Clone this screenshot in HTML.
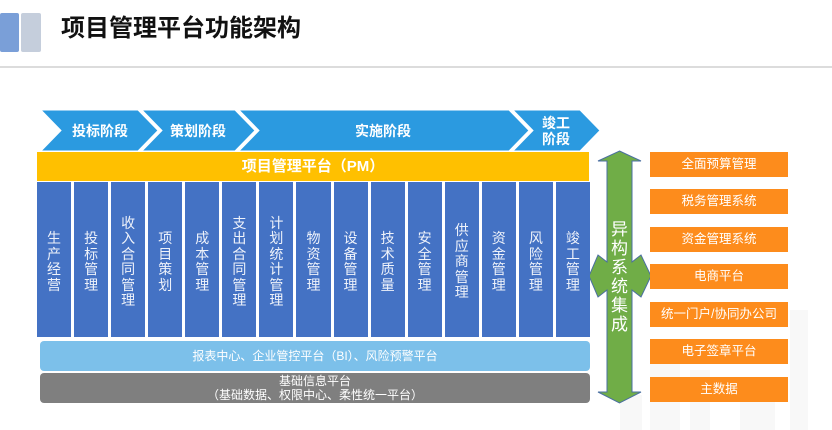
<!DOCTYPE html>
<html><head><meta charset="utf-8">
<style>
html,body{margin:0;padding:0;}
body{width:832px;height:430px;position:relative;overflow:hidden;background:#fff;font-family:"Liberation Sans","Noto Sans CJK SC",sans-serif;}
.abs{position:absolute;}
.cols{position:absolute;left:37px;top:182px;width:553px;height:155px;display:flex;gap:3px;}
.col{flex:1;background:#4472c4;color:#eef2fa;font-size:14px;line-height:15.5px;display:flex;align-items:center;justify-content:center;text-align:center;padding-top:5px;box-sizing:border-box;}
.col span{display:block;width:14px;word-break:break-all;}
.ob{position:absolute;left:650px;width:138px;height:25px;background:#fd8c1c;color:#fff;font-size:12.5px;line-height:25px;text-align:center;}
</style></head><body>
<!-- header -->
<div class="abs" style="left:0;top:13px;width:19px;height:39px;background:#7a9fd8;border-radius:2px;"></div>
<div class="abs" style="left:21px;top:13px;width:20px;height:39px;background:#c5cedc;border-radius:2px;"></div>
<div class="abs" style="left:61px;top:14px;font-size:24px;font-weight:bold;color:#111;line-height:30px;">项目管理平台功能架构</div>
<div class="abs" style="left:0;top:66px;width:832px;height:2px;background:#dcdcdc;"></div>

<!-- watermark faint -->
<svg class="abs" style="left:590px;top:300px;" width="242" height="130">
<g fill="#f8f8f8">
<rect x="60" y="40" width="30" height="90"/>
<rect x="100" y="70" width="20" height="60"/>
<rect x="200" y="10" width="18" height="120"/>
<rect x="150" y="85" width="35" height="45"/>
<rect x="30" y="95" width="22" height="35"/>
</g>
</svg>

<!-- chevrons -->
<svg class="abs" style="left:0;top:0;" width="832" height="430">
<g fill="#2b9ae0" stroke="#fff" stroke-width="1">
<polygon points="41,110 138,110 158,130.5 138,151 41,151 61,130.5"/>
<polygon points="142,110 235,110 255,130.5 235,151 142,151 162,130.5"/>
<polygon points="239,110 509,110 529,130.5 509,151 239,151 259,130.5"/>
<polygon points="513,110 580,110 600,130.5 580,151 513,151 533,130.5"/>
</g>
<g fill="#fff" font-size="14" font-weight="bold" text-anchor="middle" font-family="Liberation Sans, Noto Sans CJK SC, sans-serif">
<text x="100" y="136">投标阶段</text>
<text x="198" y="136">策划阶段</text>
<text x="383" y="136">实施阶段</text>
<text x="556" y="128">竣工</text>
<text x="556" y="144">阶段</text>
</g>
<!-- green quad arrow -->
<polygon fill="#70ad47" stroke="#4a6fa0" stroke-width="1" points="619.5,151 641,161 632,161 632,262 641,255 651,276 641,297 632,290 632,392 641,392 619.5,403 598,392 607,392 607,290 598,297 589,276 598,255 607,262 607,161 598,161"/>
<g fill="#fff" font-size="17" text-anchor="middle" font-family="Liberation Sans, Noto Sans CJK SC, sans-serif">
<text x="619.5" y="235">异</text>
<text x="619.5" y="254">构</text>
<text x="619.5" y="273">系</text>
<text x="619.5" y="292">统</text>
<text x="619.5" y="311">集</text>
<text x="619.5" y="330">成</text>
</g>
</svg>

<!-- yellow bar -->
<div class="abs" style="left:37px;top:152px;width:552px;height:29px;background:#ffc000;color:#fff;font-size:15px;font-weight:bold;line-height:29px;text-align:center;">项目管理平台（PM）</div>

<!-- columns -->
<div class="cols">
<div class="col"><span>生产经营</span></div>
<div class="col"><span>投标管理</span></div>
<div class="col"><span>收入合同管理</span></div>
<div class="col"><span>项目策划</span></div>
<div class="col"><span>成本管理</span></div>
<div class="col"><span>支出合同管理</span></div>
<div class="col"><span>计划统计管理</span></div>
<div class="col"><span>物资管理</span></div>
<div class="col"><span>设备管理</span></div>
<div class="col"><span>技术质量</span></div>
<div class="col"><span>安全管理</span></div>
<div class="col"><span>供应商管理</span></div>
<div class="col"><span>资金管理</span></div>
<div class="col"><span>风险管理</span></div>
<div class="col"><span>竣工管理</span></div>
</div>

<!-- light blue bar -->
<div class="abs" style="left:40px;top:341px;width:550px;height:30px;background:#7cc0ea;border-radius:4px;color:#fff;font-size:12px;line-height:30px;text-align:center;">报表中心、企业管控平台（BI）、风险预警平台</div>
<!-- grey bar -->
<div class="abs" style="left:40px;top:373px;width:550px;height:30px;background:#7f7f7f;border-radius:4px;color:#fff;font-size:12px;line-height:14px;text-align:center;padding-top:1px;box-sizing:border-box;">基础信息平台<br>（基础数据、权限中心、柔性统一平台）</div>

<!-- orange boxes -->
<div class="ob" style="top:152px;">全面预算管理</div>
<div class="ob" style="top:189px;">税务管理系统</div>
<div class="ob" style="top:227px;">资金管理系统</div>
<div class="ob" style="top:264px;">电商平台</div>
<div class="ob" style="top:302px;">统一门户/协同办公司</div>
<div class="ob" style="top:339px;">电子签章平台</div>
<div class="ob" style="top:377px;">主数据</div>
</body></html>
